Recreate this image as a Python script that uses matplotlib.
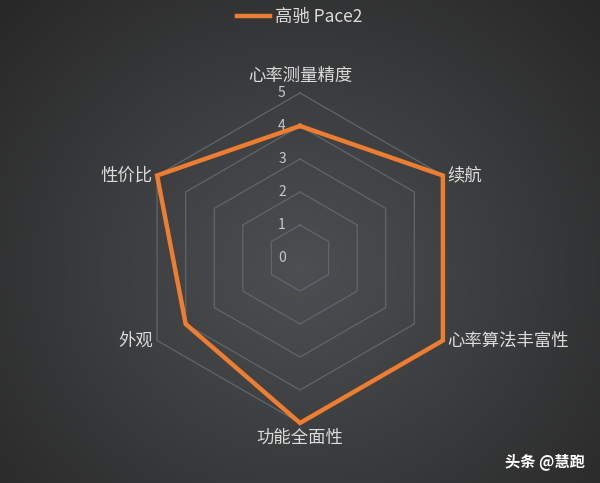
import numpy as np
import matplotlib
matplotlib.use('Agg')
import matplotlib.pyplot as plt
from matplotlib.lines import Line2D

plt.rcParams['font.family'] = ['Noto Sans CJK SC', 'DejaVu Sans']

# ---------------------------
# data
# ---------------------------
categories = ['心率测量精度', '续航', '心率算法丰富性', '功能全面性', '外观', '性价比']
values = [4, 5, 5, 5, 4, 5]
series_name = '高驰 Pace2'
ticks = [0, 1, 2, 3, 4, 5]

ORANGE = '#ED7D31'
GRID = '#5d6770'

fig = plt.figure(figsize=(6.0, 4.83), dpi=100)

# radial gradient background
bg = fig.add_axes([0, 0, 1, 1], zorder=0)
yy, xx = np.mgrid[0:483, 0:600]
d = np.sqrt(((xx - 300) / 430.0) ** 2 + ((yy - 270) / 400.0) ** 2)
d = np.clip(d, 0, 1)
inner = np.array([0.30, 0.31, 0.32])
outer = np.array([0.15, 0.15, 0.15])
img = inner[None, None, :] * (1 - d[..., None]) + outer[None, None, :] * d[..., None]
bg.imshow(img, aspect='auto', extent=[0, 1, 0, 1])
bg.axis('off')

# radar
ax = fig.add_axes([135 / 600, 60 / 483, 330 / 600, 330 / 483], projection='polar', zorder=1)
ax.set_facecolor('none')
ax.set_theta_offset(np.pi / 2)
ax.set_theta_direction(-1)
ax.set_ylim(0, 5)
ax.grid(False)
ax.spines['polar'].set_visible(False)
ax.set_xticks([])
ax.set_yticks([])

n = len(categories)
angles = np.linspace(0, 2 * np.pi, n, endpoint=False)
closed = np.append(angles, angles[0])

# hexagon grid rings
for r in ticks[1:]:
    ax.plot(closed, [r] * (n + 1), color=GRID, lw=0.9, zorder=2, clip_on=False)

# series
vals = values + values[:1]
ax.plot(closed, vals, color=ORANGE, lw=3.2, zorder=4, clip_on=False,
        solid_joinstyle='miter')

# tick labels along top axis
for t in ticks:
    ax.annotate(str(t), xy=(0, t), xytext=(-13, 0), textcoords='offset points',
                ha='center', va='center', fontsize=10, color='#c8c8c8', zorder=3)

# category labels
label_pos = [
    (0, 5.0, 'center', 'bottom', (0, 6)),
    (1, 5.0, 'left', 'center', (3, 0)),
    (2, 5.0, 'left', 'center', (3, 0)),
    (3, 5.0, 'center', 'top', (0, -4)),
    (4, 5.0, 'right', 'center', (-3, 0)),
    (5, 5.0, 'right', 'center', (-3, 0)),
]
for i, r, ha, va, off in label_pos:
    ax.annotate(categories[i], xy=(angles[i], r), xytext=off, textcoords='offset points',
                ha=ha, va=va, fontsize=12.5, color='#dcdcdc', annotation_clip=False)

# legend
handle = Line2D([0], [0], color=ORANGE, lw=3.2)
fig.legend([handle], [series_name], loc='center', bbox_to_anchor=(0.5, 1 - 17 / 483),
           frameon=False, fontsize=12.5, labelcolor='#dcdcdc', handlelength=1.9,
           handletextpad=0.3)

# watermark
fig.text(0.975, 1 - 462 / 483, '头条 @慧跑', ha='right', va='center',
         fontsize=11, color='white', fontweight='bold')

plt.savefig('out.png', dpi=100)
plt.close()
